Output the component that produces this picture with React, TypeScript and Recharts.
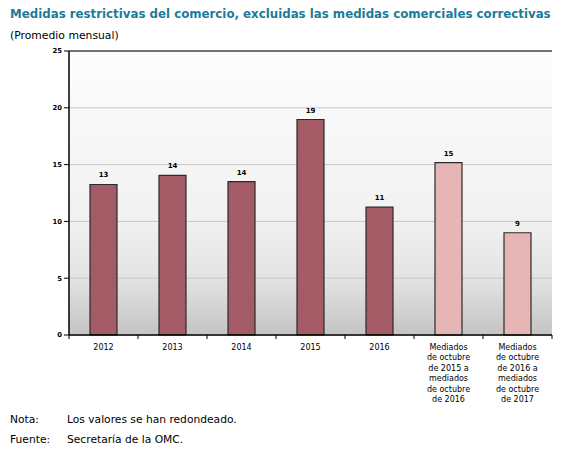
import { BarChart, Bar, XAxis, YAxis, CartesianGrid, ReferenceLine, LabelList, Cell } from 'recharts';

const categories = [
  '2012',
  '2013',
  '2014',
  '2015',
  '2016',
  'Mediados\nde octubre\nde 2015 a\nmediados\nde octubre\nde 2016',
  'Mediados\nde octubre\nde 2016 a\nmediados\nde octubre\nde 2017',
];
const monthlyAverage = [13.25, 14.06, 13.5, 18.97, 11.25, 15.18, 9.0];
const isOctoberWindow = [false, false, false, false, false, true, true];
const yTicks = [0, 5, 10, 15, 20, 25];

const data = categories.map((period, i) => ({
  period,
  value: monthlyAverage[i],
  window: isOctoberWindow[i],
}));

const FONT = '"DejaVu Sans", Verdana, sans-serif';
const DARK = '#a35b66';
const LIGHT = '#e6b6b6';

// plot geometry
const CHART_W = 568;
const CHART_H = 458;
const MARGIN = { top: 51, right: 16, bottom: 53, left: 39 };
const Y_AXIS_W = 30;
const PLOT_W = CHART_W - MARGIN.left - Y_AXIS_W - MARGIN.right;
const HALF_BAND = PLOT_W / categories.length / 2;

function CategoryTick(props: any) {
  const { x, y, payload, index } = props;
  const lines = String(payload.value).split('\n');
  return (
    <g>
      {index === 0 && <line x1={x - HALF_BAND} x2={x - HALF_BAND} y1={y - 8} y2={y - 4} stroke="#000" />}
      <line x1={x + HALF_BAND} x2={x + HALF_BAND} y1={y - 8} y2={y - 4} stroke="#000" />
      <text x={x} y={y + 7} textAnchor="middle" fontFamily={FONT} fontSize={8} fill="#000">
        {lines.map((l, i) => (
          <tspan key={i} x={x} dy={i === 0 ? 0 : 10.4}>
            {l}
          </tspan>
        ))}
      </text>
    </g>
  );
}

export default function App() {
  return (
    <div style={{ position: 'absolute', left: 0, top: 0, width: CHART_W, height: CHART_H, background: '#fff', fontFamily: FONT }}>
      <div style={{ position: 'absolute', left: 10, top: 7, fontSize: 11.8, fontWeight: 'bold', color: '#1b7b9c', whiteSpace: 'nowrap' }}>
        Medidas restrictivas del comercio, excluidas las medidas comerciales correctivas
      </div>
      <div style={{ position: 'absolute', left: 10, top: 29, fontSize: 10.8, color: '#000', whiteSpace: 'nowrap' }}>
        (Promedio mensual)
      </div>
      <BarChart width={CHART_W} height={CHART_H} data={data} margin={MARGIN} barSize={27}>
        <defs>
          <linearGradient id="plotBg" x1="0" y1="0" x2="0" y2="1">
            <stop offset="0%" stopColor="#fdfdfd" />
            <stop offset="60%" stopColor="#f1f1f1" />
            <stop offset="80%" stopColor="#e3e3e3" />
            <stop offset="100%" stopColor="#c4c4c4" />
          </linearGradient>
        </defs>
        <CartesianGrid vertical={false} stroke="#c8c8c8" fill="url(#plotBg)" fillOpacity={1} yAxisId="left" />
        <XAxis
          dataKey="period"
          interval={0}
          height={70}
          tick={<CategoryTick />}
          tickLine={false}
          axisLine={{ stroke: '#000', strokeWidth: 1.5 }}
        />
        <YAxis
          yAxisId="left"
          width={Y_AXIS_W}
          domain={[0, 25]}
          ticks={yTicks}
          tickSize={5}
          tickLine={{ stroke: '#000' }}
          axisLine={{ stroke: '#000', strokeWidth: 1.5 }}
          tick={{ fontFamily: FONT, fontSize: 6.8, fontWeight: 'bold', fill: '#000' }}
        />
        <YAxis
          yAxisId="right"
          orientation="right"
          width={0}
          domain={[0, 25]}
          tick={false}
          tickLine={false}
          axisLine={{ stroke: '#666', strokeWidth: 1.2 }}
        />
        <ReferenceLine yAxisId="left" y={25} stroke="#000" strokeWidth={1.2} />
        <Bar yAxisId="left" dataKey="value" stroke="#2a2a2a" strokeWidth={1.2} isAnimationActive={false}>
          {data.map((d, i) => (
            <Cell key={i} fill={d.window ? LIGHT : DARK} />
          ))}
          <LabelList
            dataKey="value"
            position="top"
            offset={7}
            formatter={(v: any) => Math.round(Number(v))}
            style={{ fontFamily: FONT, fontSize: 7, fontWeight: 'bold', fill: '#000' }}
          />
        </Bar>
      </BarChart>
      <div style={{ position: 'absolute', left: 10, top: 413, fontSize: 10.7, color: '#000' }}>Nota:</div>
      <div style={{ position: 'absolute', left: 67, top: 413, fontSize: 10.7, color: '#000' }}>Los valores se han redondeado.</div>
      <div style={{ position: 'absolute', left: 10, top: 433, fontSize: 10.7, color: '#000' }}>Fuente:</div>
      <div style={{ position: 'absolute', left: 67, top: 433, fontSize: 10.7, color: '#000' }}>Secretaría de la OMC.</div>
    </div>
  );
}
